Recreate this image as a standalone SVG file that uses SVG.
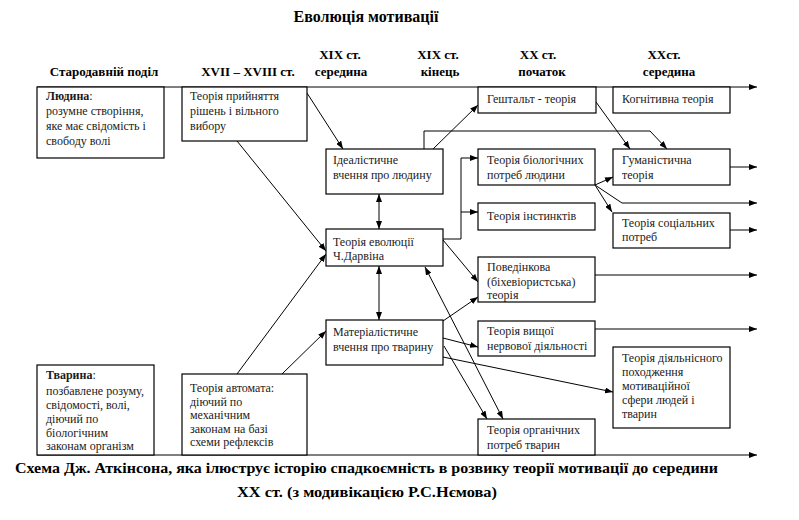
<svg xmlns="http://www.w3.org/2000/svg" width="799" height="520" viewBox="0 0 799 520">
<style>
.bg{fill:#fff}
.box{fill:#fff;stroke:#000;stroke-width:1.2}
text{font-family:'Liberation Serif','DejaVu Serif',serif}
.t{font-size:12px;fill:#1a1a1a}
.h{font-size:13px;font-weight:bold;fill:#000}
.ti{font-size:16px;font-weight:bold;fill:#000}
.cap{font-size:14px;font-weight:bold;fill:#000}
.c{fill:none;stroke:#000;stroke-width:1}
.a{marker-end:url(#ar)}
.d{marker-end:url(#ar);marker-start:url(#ar)}
</style>
<defs>
<marker id="ar" viewBox="0 0 8 6" refX="8" refY="3" markerWidth="8" markerHeight="6" orient="auto-start-reverse" markerUnits="userSpaceOnUse">
<path d="M0,0 L8,3 L0,6 z" fill="#000"/>
</marker>
</defs>
<rect class="bg" x="0" y="0" width="799" height="520"/>

<g id="titles">
<text class="ti" x="366" y="22" text-anchor="middle">Еволюція мотивації</text>
<text class="h" x="104" y="76" text-anchor="middle">Стародавній поділ</text>
<text class="h" x="248" y="76" text-anchor="middle">XVII – XVIII ст.</text>
<text class="h" x="340" y="59" text-anchor="middle">XIX ст.</text>
<text class="h" x="341" y="76" text-anchor="middle">середина</text>
<text class="h" x="438" y="59" text-anchor="middle">XIX ст.</text>
<text class="h" x="440" y="76" text-anchor="middle">кінець</text>
<text class="h" x="538" y="59" text-anchor="middle">XX ст.</text>
<text class="h" x="542" y="76" text-anchor="middle">початок</text>
<text class="h" x="664" y="59" text-anchor="middle">XXст.</text>
<text class="h" x="669" y="76" text-anchor="middle">середина</text>
</g>

<g id="connectors">
<line class="c a" x1="37" y1="87" x2="757" y2="87"/>
<line class="c a" x1="37" y1="455" x2="757" y2="455"/>
<line class="c a" x1="307" y1="93" x2="343" y2="149"/>
<line class="c a" x1="237" y1="141" x2="326" y2="251"/>
<line class="c a" x1="237" y1="374" x2="326" y2="254"/>
<line class="c a" x1="282" y1="374" x2="326" y2="331"/>
<line class="c d" x1="379" y1="194" x2="379" y2="229"/>
<line class="c d" x1="379" y1="266" x2="379" y2="320"/>
<line class="c a" x1="433" y1="149" x2="478" y2="105"/>
<polyline class="c a" points="424,149 424,131 650,131 667,149"/>
<line class="c a" x1="596" y1="102" x2="630" y2="149"/>
<polyline class="c a" points="443,239 461,239 461,158 478,158"/>
<line class="c a" x1="461" y1="212" x2="478" y2="212"/>
<line class="c a" x1="595" y1="185" x2="613" y2="177"/>
<line class="c a" x1="595" y1="185" x2="612" y2="212"/>
<polyline class="c a" points="595,185 622,203 757,203"/>
<line class="c a" x1="730" y1="167" x2="757" y2="167"/>
<line class="c a" x1="730" y1="230" x2="757" y2="230"/>
<line class="c a" x1="443" y1="240" x2="478" y2="282"/>
<line class="c a" x1="595" y1="275" x2="757" y2="275"/>
<line class="c a" x1="443" y1="321" x2="478" y2="297"/>
<line class="c a" x1="443" y1="338" x2="478" y2="347"/>
<line class="c a" x1="595" y1="329" x2="757" y2="329"/>
<line class="c a" x1="443" y1="357" x2="613" y2="392"/>
<line class="c a" x1="444" y1="346" x2="487" y2="419"/>
<line class="c d" x1="425" y1="267" x2="503" y2="419"/>
</g>

<g id="lyudyna">
<rect class="box" x="37" y="87" width="127" height="71"/>
<text class="t" x="46" y="100"><tspan font-weight="bold">Людина</tspan>:</text>
<text class="t" x="46" y="115">розумне створіння,</text>
<text class="t" x="46" y="130">яке має свідомість і</text>
<text class="t" x="46" y="145">свободу волі</text>
</g>

<g id="pryiniattia">
<rect class="box" x="182" y="87" width="125" height="54"/>
<text class="t" x="190" y="100">Теорія прийняття</text>
<text class="t" x="190" y="115">рішень і вільного</text>
<text class="t" x="190" y="130">вибору</text>
</g>

<g id="tvaryna">
<rect class="box" x="37" y="365" width="117" height="90"/>
<text class="t" x="46" y="379"><tspan font-weight="bold">Тварина</tspan>:</text>
<text class="t" x="46" y="395">позбавлене розуму,</text>
<text class="t" x="46" y="409">свідомості, волі,</text>
<text class="t" x="46" y="423">діючий по</text>
<text class="t" x="46" y="437">біологічним</text>
<text class="t" x="46" y="450">законам організм</text>
</g>

<g id="avtomat">
<rect class="box" x="182" y="374" width="125" height="81"/>
<text class="t" x="190" y="392">Теорія автомата:</text>
<text class="t" x="190" y="406">діючий по</text>
<text class="t" x="190" y="419">механічним</text>
<text class="t" x="190" y="433">законам на базі</text>
<text class="t" x="190" y="446">схеми рефлексів</text>
</g>

<g id="idealistychne">
<rect class="box" x="326" y="149" width="117" height="45"/>
<text class="t" x="333" y="164">Ідеалістичне</text>
<text class="t" x="333" y="179">вчення про людину</text>
</g>

<g id="darvin">
<rect class="box" x="326" y="229" width="117" height="37"/>
<text class="t" x="333" y="246">Теорія еволюції</text>
<text class="t" x="333" y="260">Ч.Дарвіна</text>
</g>

<g id="materialistychne">
<rect class="box" x="326" y="320" width="117" height="45"/>
<text class="t" x="333" y="336">Матеріалістичне</text>
<text class="t" x="333" y="351">вчення про тварину</text>
</g>

<g id="geshtalt">
<rect class="box" x="478" y="87" width="118" height="26"/>
<text class="t" x="487" y="103">Гештальт - теорія</text>
</g>

<g id="biologichni">
<rect class="box" x="478" y="149" width="117" height="36"/>
<text class="t" x="487" y="164">Теорія біологічних</text>
<text class="t" x="487" y="179">потреб людини</text>
</g>

<g id="instynkty">
<rect class="box" x="478" y="203" width="117" height="27"/>
<text class="t" x="487" y="220">Теорія інстинктів</text>
</g>

<g id="povedinkova">
<rect class="box" x="478" y="257" width="117" height="45"/>
<text class="t" x="487" y="271">Поведінкова</text>
<text class="t" x="487" y="286">(біхевіористська)</text>
<text class="t" x="487" y="299">теорія</text>
</g>

<g id="vyshcha">
<rect class="box" x="478" y="321" width="117" height="35"/>
<text class="t" x="487" y="335">Теорія вищої</text>
<text class="t" x="487" y="350">нервової діяльності</text>
</g>

<g id="organichni">
<rect class="box" x="478" y="419" width="117" height="36"/>
<text class="t" x="487" y="434">Теорія органічних</text>
<text class="t" x="487" y="449">потреб тварин</text>
</g>

<g id="kognityvna">
<rect class="box" x="613" y="87" width="117" height="26"/>
<text class="t" x="622" y="103">Когнітивна теорія</text>
</g>

<g id="gumanistychna">
<rect class="box" x="613" y="149" width="117" height="36"/>
<text class="t" x="622" y="164">Гуманістична</text>
<text class="t" x="622" y="179">теорія</text>
</g>

<g id="sotsialni">
<rect class="box" x="613" y="213" width="117" height="35"/>
<text class="t" x="622" y="227">Теорія соціальних</text>
<text class="t" x="622" y="241">потреб</text>
</g>

<g id="diialnisne">
<rect class="box" x="613" y="347" width="117" height="81"/>
<text class="t" x="622" y="362">Теорія діяльнісного</text>
<text class="t" x="622" y="376">походження</text>
<text class="t" x="622" y="390">мотиваційної</text>
<text class="t" x="622" y="404">сфери людей і</text>
<text class="t" x="622" y="418">тварин</text>
</g>

<g id="caption">
<text class="cap" x="15" y="473" textLength="703" lengthAdjust="spacingAndGlyphs">Схема Дж. Аткінсона, яка ілюструє історію спадкоємність в розвику теорії мотивації до середини</text>
<text class="cap" x="237" y="497" textLength="260" lengthAdjust="spacingAndGlyphs">XX ст. (з модивікацією Р.С.Нємова)</text>
</g>
</svg>
